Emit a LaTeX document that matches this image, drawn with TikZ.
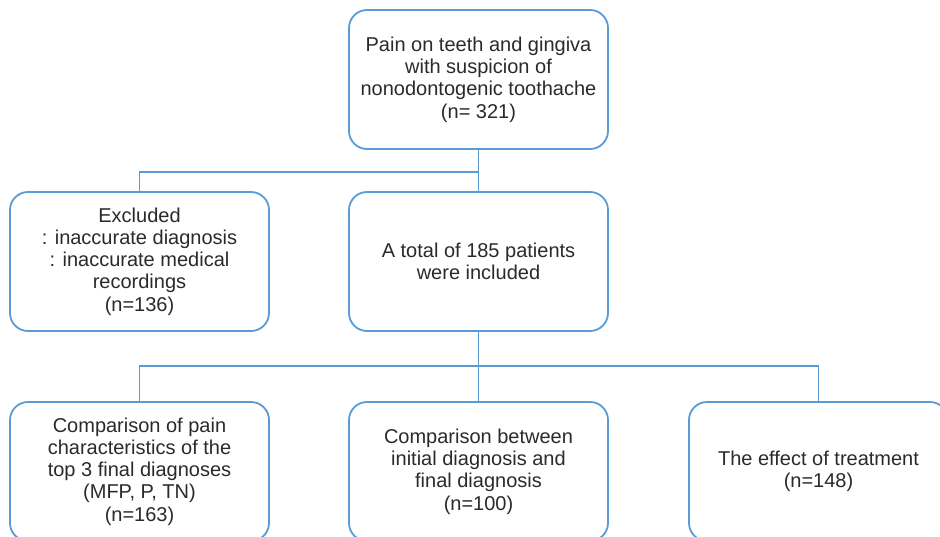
\documentclass[tikz,border=0pt]{standalone}
\usepackage{fontspec}
\setmainfont{Liberation Sans}
\definecolor{lineblue}{HTML}{5B9BD5}
\definecolor{txt}{HTML}{2A2A2A}
\begin{document}
\begin{tikzpicture}[x=1pt,y=-1pt,
  box/.style={draw=lineblue, line width=1.8pt, rounded corners=18pt, minimum width=259pt, minimum height=139pt,
    align=center, text=txt, inner sep=0pt, font=\fontsize{20}{22.3}\selectfont},
  conn/.style={draw=lineblue, line width=1.8pt}]
\useasboundingbox (0,0) rectangle (940,536);
\clip (0,0) rectangle (940,536);
\node[box] (top) at (478.5,79.5) {Pain on teeth and gingiva\\with suspicion of\\nonodontogenic toothache\\(n= 321)};
\node[box] (exc) at (139.5,261.5) {Excluded\\: inaccurate diagnosis\\: inaccurate medical\\recordings\\(n=136)};
\node[box] (mid) at (478.5,261.5) {A total of 185 patients\\were included};
\node[box] (bl) at (139.5,471.5) {Comparison of pain\\characteristics of the\\top 3 final diagnoses\\(MFP, P, TN)\\(n=163)};
\node[box] (bm) at (478.5,471.5) {Comparison between\\initial diagnosis and\\final diagnosis\\(n=100)};
\node[box] (br) at (818.5,471.5) {The effect of treatment\\(n=148)};
\coordinate (j1) at (478.5,172);
\coordinate (j2) at (478.5,366);
\draw[conn] (top.south) -- (mid.north);
\draw[conn] (j1) -| (exc.north);
\draw[conn] (mid.south) -- (j2);
\draw[conn] (j2) -| (bl.north);
\draw[conn] (j2) -| (br.north);
\draw[conn] (j2) -- (bm.north);
\end{tikzpicture}
\end{document}
